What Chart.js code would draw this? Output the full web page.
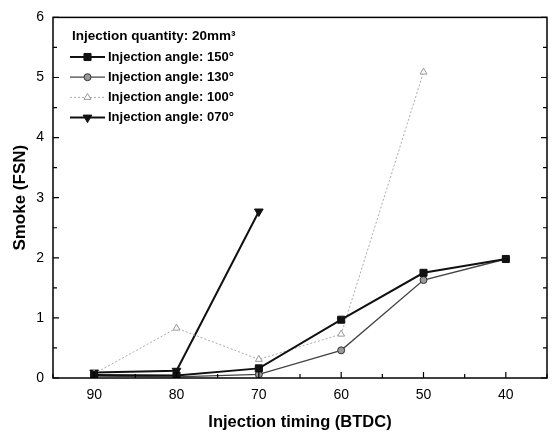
<!DOCTYPE html>
<html>
<head>
<meta charset="utf-8">
<script src="https://cdn.jsdelivr.net/npm/chart.js@4"></script>
<style>
html,body{margin:0;padding:0;background:#fff;}
#wrap{width:553px;height:432px;}
</style>
</head>
<body>
<div id="wrap"><canvas id="c" width="553" height="432"></canvas></div>
<script>
const timing = [90, 80, 70, 60, 50, 40];
const angle150 = [0.05, 0.04, 0.16, 0.97, 1.75, 1.98];
const angle130 = [0.03, 0.02, 0.06, 0.46, 1.63, 1.98];
const angle100 = [0.07, 0.83, 0.31, 0.73, 5.09, null];
const angle070 = [0.09, 0.12, 2.77, null, null, null];
const xTicks = [90, 80, 70, 60, 50, 40];
const yTicks = [0, 1, 2, 3, 4, 5, 6];
const legendTitle = 'Injection quantity: 20mm\u00B3';
const labels = ['Injection angle: 150\u00B0', 'Injection angle: 130\u00B0', 'Injection angle: 100\u00B0', 'Injection angle: 070\u00B0'];

function pts(arr){ return timing.map((t,i)=>({x:t,y:arr[i]})).filter(p=>p.y!==null); }

const FONT = '"Liberation Sans", Arial, sans-serif';

const frameTicks = {
  id:'frameTicks',
  afterDraw(chart){
    const {ctx, chartArea:a, scales:{x,y}} = chart;
    ctx.save();
    ctx.strokeStyle = '#000';
    ctx.lineWidth = 1.5;
    ctx.strokeRect(a.left, a.top, a.right-a.left, a.bottom-a.top);
    ctx.lineWidth = 1.2;
    ctx.beginPath();
    for (let v=35; v<=95; v+=5){
      const px = x.getPixelForValue(v);
      const len = (v%10===0)?6:4;
      ctx.moveTo(px, a.bottom); ctx.lineTo(px, a.bottom-len);
    }
    for (let v=0; v<=6; v+=0.5){
      const py = y.getPixelForValue(v);
      const len = (Math.abs(v%1)<1e-9)?6:4;
      ctx.moveTo(a.left, py); ctx.lineTo(a.left+len, py);
      ctx.moveTo(a.right, py); ctx.lineTo(a.right-len, py);
    }
    ctx.stroke();
    ctx.restore();
  }
};

const customLegend = {
  id:'customLegend',
  afterDraw(chart){
    const {ctx} = chart;
    ctx.save();
    ctx.fillStyle = '#000';
    ctx.textBaseline = 'middle';
    ctx.font = 'bold 13.5px ' + FONT;
    ctx.fillText(legendTitle, 72, 36);
    const startY = 57, step = 20.2;
    chart.data.datasets.forEach((ds, i) => {
      const cy = startY + i*step;
      ctx.save();
      ctx.strokeStyle = ds.borderColor;
      ctx.lineWidth = ds.borderWidth;
      ctx.setLineDash(ds.borderDash || []);
      ctx.beginPath(); ctx.moveTo(70, cy); ctx.lineTo(105, cy); ctx.stroke();
      ctx.setLineDash([]);
      ctx.fillStyle = ds.pointBackgroundColor;
      ctx.strokeStyle = ds.pointBorderColor;
      ctx.lineWidth = ds.pointBorderWidth;
      Chart.helpers.drawPoint(ctx, {pointStyle: ds.pointStyle, rotation: ds.pointRotation||0, radius: ds.pointRadius, borderWidth: ds.pointBorderWidth}, 87.5, cy);
      ctx.restore();
      ctx.fillStyle = '#000';
      ctx.font = 'bold 13px ' + FONT;
      ctx.fillText(ds.label, 108, cy);
    });
    ctx.restore();
  }
};

new Chart(document.getElementById('c'), {
  type:'line',
  data:{
    datasets:[
      {label:labels[0], data:pts(angle150), borderColor:'#111', borderWidth:2,
       pointStyle:'rect', pointRadius:5, pointBackgroundColor:'#111', pointBorderColor:'#111', pointBorderWidth:1},
      {label:labels[1], data:pts(angle130), borderColor:'#444', borderWidth:1.3,
       pointStyle:'circle', pointRadius:3.5, pointBackgroundColor:'#999', pointBorderColor:'#333', pointBorderWidth:1},
      {label:labels[2], data:pts(angle100), borderColor:'#aaa', borderWidth:1, borderDash:[2,2],
       pointStyle:'triangle', pointRadius:4, pointBackgroundColor:'#fff', pointBorderColor:'#999', pointBorderWidth:1},
      {label:labels[3], data:pts(angle070), borderColor:'#111', borderWidth:2,
       pointStyle:'triangle', pointRotation:180, pointRadius:5, pointBackgroundColor:'#111', pointBorderColor:'#111', pointBorderWidth:1}
    ]
  },
  options:{
    responsive:false,
    animation:false,
    layout:{padding:{top:14, right:5, left:0, bottom:0}},
    plugins:{legend:{display:false}, tooltip:{enabled:false}},
    elements:{line:{tension:0}},
    scales:{
      x:{type:'linear', reverse:true, min:35, max:95,
         afterBuildTicks:(s)=>{ s.ticks = xTicks.map(v=>({value:v})); },
         afterFit:(s)=>{ s.height = 54; },
         grid:{display:false, drawTicks:false}, border:{display:false},
         ticks:{color:'#000', font:{family:FONT, size:14}, padding:9, maxRotation:0},
         title:{display:true, text:'Injection timing (BTDC)', color:'#000', font:{family:FONT, size:16.5, weight:'bold'}, padding:{top:2,bottom:0}}
      },
      y:{type:'linear', min:0, max:6,
         afterBuildTicks:(s)=>{ s.ticks = yTicks.map(v=>({value:v})); },
         afterFit:(s)=>{ s.width = 53; },
         grid:{display:false, drawTicks:false}, border:{display:false},
         ticks:{color:'#000', font:{family:FONT, size:14}, padding:9},
         title:{display:true, text:'Smoke (FSN)', color:'#000', font:{family:FONT, size:17, weight:'bold'}, padding:{top:10,bottom:2}}
      }
    }
  },
  plugins:[frameTicks, customLegend]
});
</script>
</body>
</html>
